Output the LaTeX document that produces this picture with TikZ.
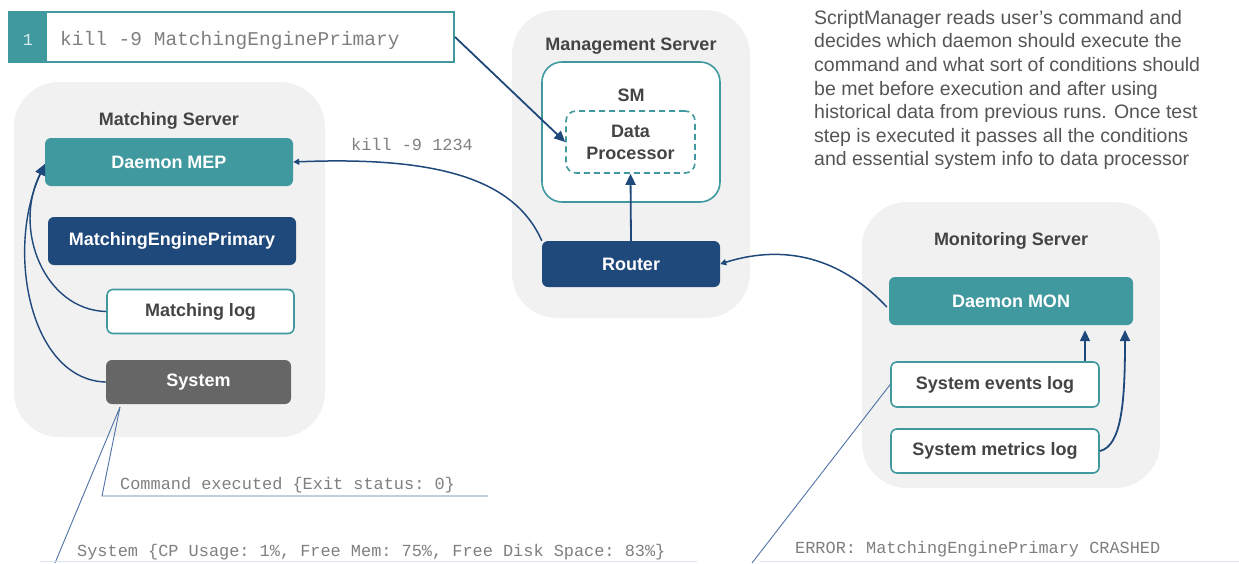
\documentclass[tikz,border=0pt]{standalone}
\usepackage{fontspec}
\setmainfont{Liberation Sans}
\setmonofont{Liberation Mono}
\usetikzlibrary{arrows.meta}

\definecolor{mteal}{HTML}{3F999F}
\definecolor{mnavy}{HTML}{1F487B}
\definecolor{mgraybox}{HTML}{666666}
\definecolor{mgroup}{HTML}{F1F1F1}
\definecolor{mtitle}{HTML}{444444}
\definecolor{mtext}{HTML}{555555}
\definecolor{mmono}{HTML}{7F7F7F}
\definecolor{mcallout}{HTML}{4F72A6}
\definecolor{mrule}{HTML}{DDE3EC}

\tikzset{
  x=1pt, y=-1pt,
  group/.style={fill=mgroup, draw=none, rounded corners=45pt},
  grouptitle/.style={font=\fontsize{18}{20}\selectfont\bfseries, text=mtitle},
  box/.style={rounded corners=6pt, font=\fontsize{18}{20}\selectfont\bfseries, inner sep=0pt},
  tealbox/.style={box, fill=mteal, text=white},
  navybox/.style={box, fill=mnavy, text=white},
  graybox/.style={box, fill=mgraybox, text=white},
  logbox/.style={box, fill=white, draw=mteal, line width=1.6pt, text=mtitle},
  flow/.style={draw=mnavy, line width=1.8pt, -{Triangle[length=11pt, width=10pt]}},
  thinflow/.style={draw=mnavy, line width=1.5pt, -{Triangle[length=6pt, width=6pt]}},
  callout/.style={draw=mcallout, line width=0.9pt},
  monotext/.style={font=\fontsize{16.9}{19}\ttfamily, text=mmono, inner sep=0pt, anchor=base west},
}

\begin{document}
\begin{tikzpicture}
\useasboundingbox (0,0) rectangle (1239,563);

% ---------- server groups ----------
\fill[group] (14,82) rectangle (325,437);
\fill[group] (512,10) rectangle (750,318);
\fill[group] (862,202) rectangle (1160,488);

\node[grouptitle] (mstitle) at (169,121) {Matching Server};
\node[grouptitle] (mgtitle) at (631,46) {Management Server};
\node[grouptitle] (motitle) at (1011,241) {Monitoring Server};

% ---------- matching server ----------
\node[tealbox, minimum width=248pt, minimum height=48pt] (mep) at (169,162) {Daemon MEP};
\node[navybox, minimum width=248pt, minimum height=48pt] (engine) at (172,241) {MatchingEnginePrimary};
\node[logbox, minimum width=187pt, minimum height=44pt] (mlog) at (200.5,311.5) {Matching log};
\node[graybox, minimum width=185pt, minimum height=44pt] (system) at (198.5,382) {System};

% ---------- management server ----------
\node[draw=mteal, fill=white, line width=1.6pt, rounded corners=20pt,
      minimum width=178pt, minimum height=140pt, inner sep=0pt] (sm) at (631,132) {};
\node[grouptitle, text=mtitle] (smlabel) at (631,95) {SM};
\node[draw=mteal, dashed, dash pattern=on 6pt off 4pt, line width=1.6pt, rounded corners=10pt,
      minimum width=129pt, minimum height=62pt, inner sep=0pt, align=center,
      font=\fontsize{18}{22}\selectfont\bfseries, text=mtitle] (dp) at (630.5,142) {Data\\Processor};
\node[navybox, minimum width=178pt, minimum height=46pt] (router) at (631,264) {Router};

% ---------- monitoring server ----------
\node[tealbox, minimum width=244pt, minimum height=48pt] (mon) at (1011,301) {Daemon MON};
\node[logbox, minimum width=208pt, minimum height=45pt] (events) at (995,384.5) {System events log};
\node[logbox, minimum width=208pt, minimum height=44pt] (metrics) at (995,451) {System metrics log};

% ---------- command line ----------
\node[draw=mteal, fill=white, line width=2pt, minimum width=445pt, minimum height=50pt,
      inner sep=0pt] (cmd) at (231.5,37) {};
\fill[mteal] (cmd.north west) rectangle (47,63);
\node[font=\fontsize{17}{20}\ttfamily, text=white!80!mteal] (cmdno) at (28,40) {1};
\node[font=\fontsize{19.5}{22}\ttfamily, text=mmono, anchor=west, inner sep=0pt] (cmdtext) at (60,40) {kill -9 MatchingEnginePrimary};

% ---------- description ----------
\node[anchor=north west, inner sep=0pt, align=left, text=mtext,
      font=\fontsize{19.5}{23.6}\selectfont] (desc) at (814,10)
  {ScriptManager reads user’s command and\\
   decides which daemon should execute the\\
   command and what sort of conditions should\\
   be met before execution and after using\\
   historical data from previous runs. Once test\\
   step is executed it passes all the conditions\\
   and essential system info to data processor};

% ---------- flows ----------
\coordinate (mepin) at (45,164);
\draw[flow] (cmd.east) -- (dp.west);
\draw[flow] (router.north) -- (dp.south);
\draw[thinflow] (router.north west) .. controls (515,180) and (440,156) .. (mep.east);
\node[monotext, anchor=base] (killlbl) at (412,150) {kill -9 1234};
\draw[thinflow] (mon.west) ++(-2,6) coordinate (monout)
  .. controls (845,262) and (790,242) .. (router.east);
\draw[flow] (events.north -| 1085,0) coordinate (evtop) -- ++(0,-31);
\coordinate (montarget) at (1125,330);
\draw[flow] (metrics.east) .. controls (1122,446) and (1125,400) .. (montarget);
\draw[flow, line width=1.4pt] (mlog.west) .. controls (45,310) and (12,230) .. (mepin);
\draw[flow, line width=1.4pt] (system.west) .. controls (30,380) and (5,250) .. (mepin);

% ---------- call-outs ----------
\coordinate (sysfoot) at (120,407);
\coordinate (corner) at (102,496);
\coordinate (lineend) at (488,496);
\draw[callout] (sysfoot) -- (55,563);
\draw[callout] (sysfoot) -- (corner) -- (lineend);
\node[monotext] (exitlbl) at (120,489) {Command executed \{Exit status: 0\}};
\node[monotext] (syslbl) at (77,556) {System \{CP Usage: 1\%, Free Mem: 75\%, Free Disk Space: 83\%\}};
\draw[mrule, line width=0.8pt] (40,561) -- (697,561);

\coordinate (errfoot) at (752,563);
\draw[callout] (events.west) -- (errfoot);
\node[monotext] (errlbl) at (795,553) {ERROR: MatchingEnginePrimary CRASHED};
\draw[mrule, line width=0.8pt] (760,561) -- (1239,561);
\end{tikzpicture}
\end{document}
